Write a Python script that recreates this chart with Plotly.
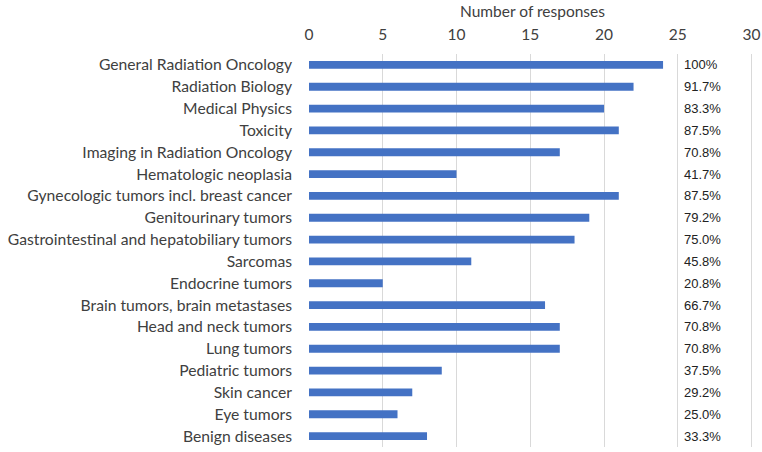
import plotly.graph_objects as go

categories = [
    "General Radiation Oncology", "Radiation Biology", "Medical Physics", "Toxicity",
    "Imaging in Radiation Oncology", "Hematologic neoplasia",
    "Gynecologic tumors incl. breast cancer", "Genitourinary tumors",
    "Gastrointestinal and hepatobiliary tumors", "Sarcomas", "Endocrine tumors",
    "Brain tumors, brain metastases", "Head and neck tumors", "Lung tumors",
    "Pediatric tumors", "Skin cancer", "Eye tumors", "Benign diseases",
]
responses = [24, 22, 20, 21, 17, 10, 21, 19, 18, 11, 5, 16, 17, 17, 9, 7, 6, 8]
percent_labels = ["100%", "91.7%", "83.3%", "87.5%", "70.8%", "41.7%", "87.5%", "79.2%",
                  "75.0%", "45.8%", "20.8%", "66.7%", "70.8%", "70.8%", "37.5%", "29.2%",
                  "25.0%", "33.3%"]

FONT = "Lato, Carlito, Calibri"

fig = go.Figure()
fig.add_trace(go.Bar(
    x=responses, y=categories, orientation="h",
    marker=dict(color="#4472C4", line=dict(width=0)),
    width=0.36,
))

for cat, lab in zip(categories, percent_labels):
    fig.add_annotation(x=25.3, y=cat, text=lab, showarrow=False, xanchor="left",
                       yanchor="middle", xref="x", yref="y",
                       font=dict(family="Liberation Sans, Arial", size=13, color="#222222"))

fig.update_layout(
    width=762, height=452,
    margin=dict(l=309, r=6, t=54, b=5, autoexpand=False),
    paper_bgcolor="white", plot_bgcolor="white",
    showlegend=False,
    xaxis=dict(
        side="top", range=[0, 30.3], tickvals=[0, 5, 10, 15, 20, 25, 30],
        showgrid=True, gridcolor="#d9d9d9", gridwidth=1,
        zeroline=False, showline=False, ticks="", automargin=False,
        ticklabelstandoff=10, ticklabeloverflow="allow",
        tickfont=dict(family=FONT, size=15.5, color="#404040"),
        title=dict(text="Number of responses", standoff=3,
                   font=dict(family=FONT, size=15.5, color="#404040")),
    ),
    yaxis=dict(
        autorange="reversed", showgrid=False, zeroline=False, showline=False,
        ticks="", ticklabelstandoff=16, automargin=False,
        tickfont=dict(family=FONT, size=15.7, color="#404040"),
    ),
)

fig.write_html("out.html", config={"displayModeBar": False},
               post_script="document.body.style.margin='0';document.body.style.overflow='hidden';")
